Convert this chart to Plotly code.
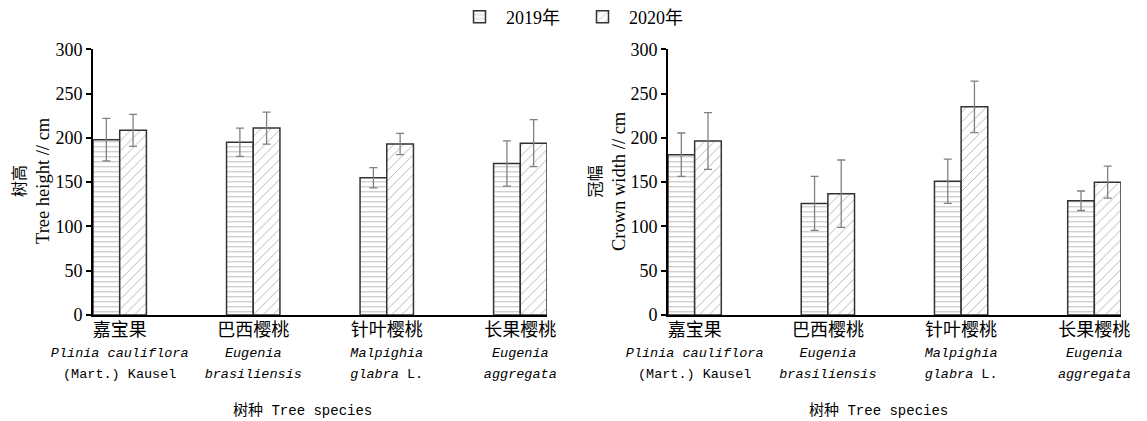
import plotly.graph_objects as go

W, H = 1147, 421

# ---- data ----
cn_names = ["嘉宝果", "巴西樱桃", "针叶樱桃", "长果樱桃"]
latin_line1 = ["<i>Plinia cauliflora</i>", "<i>Eugenia</i>", "<i>Malpighia</i>", "<i>Eugenia</i>"]
latin_line2 = ["(Mart.) Kausel", "<i>brasiliensis</i>", "<i>glabra</i> L.", "<i>aggregata</i>"]

height_2019 = [198, 195, 155, 171]
height_2019_err = [24, 16, 11.5, 25.5]
height_2020 = [208.5, 211, 193, 194]
height_2020_err = [18, 18, 12, 26.5]

crown_2019 = [181, 126, 151, 129]
crown_2019_err = [24.5, 30.5, 25, 11]
crown_2020 = [196.5, 137, 235, 150]
crown_2020_err = [32, 38, 29, 18]

y_ticks = [0, 50, 100, 150, 200, 250, 300]
years = ["2019年", "2020年"]

CJK = "Noto Sans CJK SC"
SERIF = "Liberation Serif, Noto Sans CJK SC"
MONO = "Liberation Mono, Noto Sans CJK SC"

def cat_label(i):
    return (f'<span style="font-size:18px;font-family:{CJK}">{cn_names[i]}</span><br>'
            f'<span style="font-size:13.5px">{latin_line1[i]}</span><br>'
            f'<span style="font-size:13.5px">{latin_line2[i]}</span>')

cats = [cat_label(i) for i in range(len(cn_names))]

fig = go.Figure()

ERR_COLOR = "#808080"

def add_pair(v19, e19, v20, e20, xa, ya, show):
    fig.add_trace(go.Bar(
        x=cats, y=v19, name=years[0], xaxis=xa, yaxis=ya, showlegend=show,
        legendgroup="a",
        marker=dict(color="white", line=dict(color="#333333", width=1.5),
                    pattern=dict(shape="-", fgcolor="#7a7a7a", size=5, solidity=0.2)),
        error_y=dict(type="data", array=e19, visible=True, color=ERR_COLOR,
                     thickness=1.3, width=4),
    ))
    fig.add_trace(go.Bar(
        x=cats, y=v20, name=years[1], xaxis=xa, yaxis=ya, showlegend=show,
        legendgroup="b",
        marker=dict(color="white", line=dict(color="#333333", width=1.5),
                    pattern=dict(shape="/", fgcolor="#555555", size=7, solidity=0.12)),
        error_y=dict(type="data", array=e20, visible=True, color=ERR_COLOR,
                     thickness=1.3, width=4),
    ))

add_pair(height_2019, height_2019_err, height_2020, height_2020_err, "x", "y", True)
add_pair(crown_2019, crown_2019_err, crown_2020, crown_2020_err, "x2", "y2", False)

ydom = [1 - 315 / H, 1 - 49.3 / H]
xdom1 = [93 / W, 547 / W]
xdom2 = [668 / W, 1121 / W]

xaxis_common = dict(
    type="category", range=[-0.2, 3.2], showline=True, linecolor="black",
    linewidth=2, ticks="", showgrid=False, zeroline=False, tickangle=0,
    automargin=False,
    tickfont=dict(family=MONO, size=16, color="black"),
)
yaxis_common = dict(
    range=[0, 300], tickvals=y_ticks, showline=True, linecolor="black",
    linewidth=2, ticks="outside", ticklen=5, tickwidth=2, tickcolor="black",
    showgrid=False, zeroline=False, automargin=False,
    tickfont=dict(family=SERIF, size=18, color="black"),
)

fig.update_layout(
    width=W, height=H,
    margin=dict(l=0, r=0, t=0, b=0, autoexpand=False),
    paper_bgcolor="white", plot_bgcolor="white",
    barmode="group", bargap=0.6, bargroupgap=0,
    xaxis=dict(domain=xdom1, anchor="y", **xaxis_common),
    yaxis=dict(domain=ydom, anchor="x", **yaxis_common),
    xaxis2=dict(domain=xdom2, anchor="y2", **xaxis_common),
    yaxis2=dict(domain=ydom, anchor="x2", **yaxis_common),
    legend=dict(orientation="h", x=453 / W, xanchor="left", y=1 - 17 / H, yanchor="middle",
                font=dict(family=SERIF, size=18, color="black"),
                itemwidth=43, entrywidth=65, bgcolor="rgba(0,0,0,0)"),
    font=dict(family=SERIF, color="black"),
)

xtitle = (f'<span style="font-family:{CJK};font-size:15px">树种</span> '
          f'<span style="font-family:Liberation Mono">Tree species</span>')
ann = [
    dict(text=xtitle, x=302 / W, y=1 - 408 / H, font=dict(family=MONO, size=14, color="black")),
    dict(text=xtitle, x=878 / W, y=1 - 408 / H, font=dict(family=MONO, size=14, color="black")),
    dict(text=f'<span style="font-family:{CJK};font-size:16px">树高</span><br>Tree height // cm',
         x=29 / W, y=1 - 181 / H, textangle=-90, font=dict(family=SERIF, size=18.5, color="black")),
    dict(text=f'<span style="font-family:{CJK};font-size:16px">冠幅</span><br>Crown width // cm',
         x=605 / W, y=1 - 181 / H, textangle=-90, font=dict(family=SERIF, size=18.5, color="black")),
]
for a in ann:
    fig.add_annotation(xref="paper", yref="paper", showarrow=False,
                       xanchor="center", yanchor="middle", **a)

fig.write_html("out.html", config={"displayModeBar": False},
               post_script="document.body.style.margin='0';")
